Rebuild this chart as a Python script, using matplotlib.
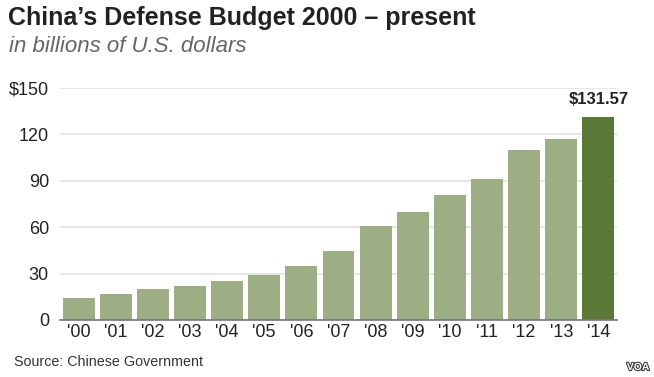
import matplotlib
matplotlib.use("Agg")
import matplotlib.pyplot as plt
import matplotlib.patheffects as pe

years = ["'00", "'01", "'02", "'03", "'04", "'05", "'06", "'07",
         "'08", "'09", "'10", "'11", "'12", "'13", "'14"]
budget = [14.0, 16.8, 19.8, 22.2, 25.0, 29.3, 34.7, 44.8,
          61.0, 70.0, 80.6, 91.1, 109.7, 117.0, 131.57]
yticks = [0, 30, 60, 90, 120, 150]
ytick_labels = ["0", "30", "60", "90", "120", "$150"]

light = "#9dae85"
dark = "#5a7836"

plt.rcParams['font.family'] = ['Liberation Sans', 'DejaVu Sans']

fig = plt.figure(figsize=(6.54, 3.77), dpi=100)
ax = fig.add_axes([60/654, 1 - 320/377, 557/654, 232/377])

colors = [light] * (len(budget) - 1) + [dark]
x = list(range(len(budget)))
ax.bar(x, budget, width=0.86, color=colors, zorder=2)
ax.set_xlim(-0.5, len(budget) - 0.5)
ax.set_ylim(0, 150)
ax.set_yticks(yticks)
ax.set_yticklabels(ytick_labels, fontsize=13, color="#222222")
ax.set_xticks(x)
ax.set_xticklabels(years, fontsize=13, color="#222222")
ax.tick_params(axis='both', length=0)
ax.tick_params(axis='y', pad=8)
ax.tick_params(axis='x', pad=3)
for s in ["top", "right", "left"]:
    ax.spines[s].set_visible(False)
ax.spines["bottom"].set_color("#777777")
ax.spines["bottom"].set_linewidth(1.2)
ax.spines["bottom"].set_zorder(3)
ax.grid(axis='y', color="#e2e2e2", linewidth=1.2, zorder=1)
ax.set_axisbelow(True)

ax.annotate("$131.57", xy=(x[-1], budget[-1]), xytext=(0, 7),
            textcoords="offset points", ha="center", va="bottom",
            fontsize=12, fontweight="bold", color="#222222")

fig.text(8/654, 1 - 18/377, "China\u2019s Defense Budget 2000 \u2013 present",
         fontsize=18, fontweight="bold", color="#222222", va="center", ha="left")
fig.text(9/654, 1 - 46/377, "in billions of U.S. dollars",
         fontsize=16, style="italic", color="#666666", va="center", ha="left")
fig.text(14/654, 1 - 362/377, "Source: Chinese Government",
         fontsize=10.3, color="#333333", va="center", ha="left")
fig.text(638/654, 1 - 367/377, "VOA", fontsize=7.5, fontweight="bold",
         color="white", va="center", ha="center",
         path_effects=[pe.withStroke(linewidth=1.5, foreground="#333333")])

fig.savefig("out.png", dpi=100)
